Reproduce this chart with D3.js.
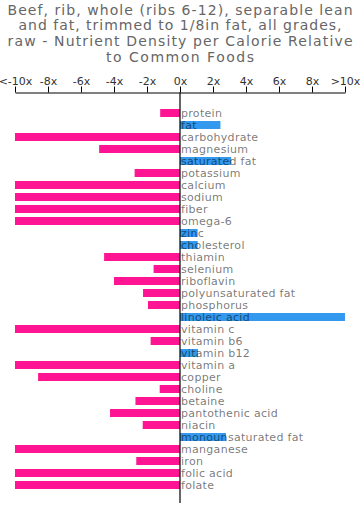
<!DOCTYPE html>
<html>
<head>
<meta charset="utf-8">
<script src="https://cdn.jsdelivr.net/npm/d3@7"></script>
<style>
  body { margin: 0; background: #fff; }
  svg { display: block; font-family: "DejaVu Sans", sans-serif; }
</style>
</head>
<body>
<svg id="chart" width="360" height="514"></svg>
<script>
const titleLines = [
    "Beef, rib, whole (ribs 6-12), separable lean",
    "and fat, trimmed to 1/8in fat, all grades,",
    "raw - Nutrient Density per Calorie Relative",
    "to Common Foods"
];
// measured widths of the title lines in the reference
const titleWidths = [345, 323, 345, 148];

const nutrients = [
    "protein", "fat", "carbohydrate", "magnesium", "saturated fat", "potassium",
    "calcium", "sodium", "fiber", "omega-6", "zinc", "cholesterol", "thiamin",
    "selenium", "riboflavin", "polyunsaturated fat", "phosphorus", "linoleic acid",
    "vitamin c", "vitamin b6", "vitamin b12", "vitamin a", "copper", "choline",
    "betaine", "pantothenic acid", "niacin", "monounsaturated fat", "manganese",
    "iron", "folic acid", "folate"
];

const density = [
    -1.2, 2.45, -10, -4.9, 3.1, -2.75,
    -10, -10, -10, -10, 1.07, 1.07, -4.6,
    -1.6, -4.0, -2.24, -1.94, 10,
    -10, -1.78, 1.09, -10, -8.6, -1.23,
    -2.7, -4.24, -2.26, 2.79, -10,
    -2.65, -10, -10
];

const tickValues = [-10, -8, -6, -4, -2, 0, 2, 4, 6, 8, 10];
const tickLabels = ["<-10x", "-8x", "-6x", "-4x", "-2x", "0x", "2x", "4x", "6x", "8x", ">10x"];

const svg = d3.select("#chart");

// title, stretched to the reference line widths
svg.append("g")
    .selectAll("text")
    .data(titleLines)
    .join("text")
    .attr("x", 180)
    .attr("y", (d, i) => 14.5 + i * 15.8)
    .attr("text-anchor", "middle")
    .attr("font-size", 14)
    .attr("textLength", (d, i) => titleWidths[i])
    .attr("lengthAdjust", "spacing")
    .attr("fill", "#666")
    .text(d => d);

const x = d3.scaleLinear().domain([-10, 10]).range([15, 345]);
const y = d3.scaleBand()
    .domain(nutrients)
    .range([107, 491])
    .paddingInner(1 / 3)
    .paddingOuter(1 / 6);

// axis on top
const axis = svg.append("g")
    .attr("transform", "translate(0,92.5)")
    .call(d3.axisTop(x)
        .tickValues(tickValues)
        .tickFormat((d, i) => tickLabels[i])
        .tickSize(6)
        .tickSizeOuter(0));
axis.select(".domain").attr("stroke", "#000");
axis.selectAll(".tick line").attr("stroke", "#000");
axis.selectAll(".tick text")
    .attr("font-family", "DejaVu Sans, sans-serif")
    .attr("font-size", 11)
    .attr("fill", "#333")
    .attr("dy", "0.1em");

const rows = svg.append("g");

rows.selectAll("rect")
    .data(nutrients)
    .join("rect")
    .attr("x", (d, i) => x(Math.min(0, density[i])))
    .attr("y", d => y(d))
    .attr("width", (d, i) => Math.abs(x(density[i]) - x(0)))
    .attr("height", y.bandwidth())
    .attr("fill", (d, i) => density[i] < 0 ? "#ff1493" : "#3399ee");

// zero line
svg.append("line")
    .attr("x1", x(0)).attr("x2", x(0))
    .attr("y1", 92.5).attr("y2", 503)
    .attr("stroke", "#000")
    .attr("stroke-width", 1.2);

// labels sit over the bars, semi-transparent so they darken the blue ones
rows.selectAll("text")
    .data(nutrients)
    .join("text")
    .attr("x", x(0) + 1)
    .attr("y", d => y(d) + y.bandwidth() / 2)
    .attr("dy", "0.35em")
    .attr("font-size", 11)
    .attr("letter-spacing", 0.3)
    .attr("fill", "#000")
    .attr("fill-opacity", 0.55)
    .text(d => d);
</script>
</body>
</html>
